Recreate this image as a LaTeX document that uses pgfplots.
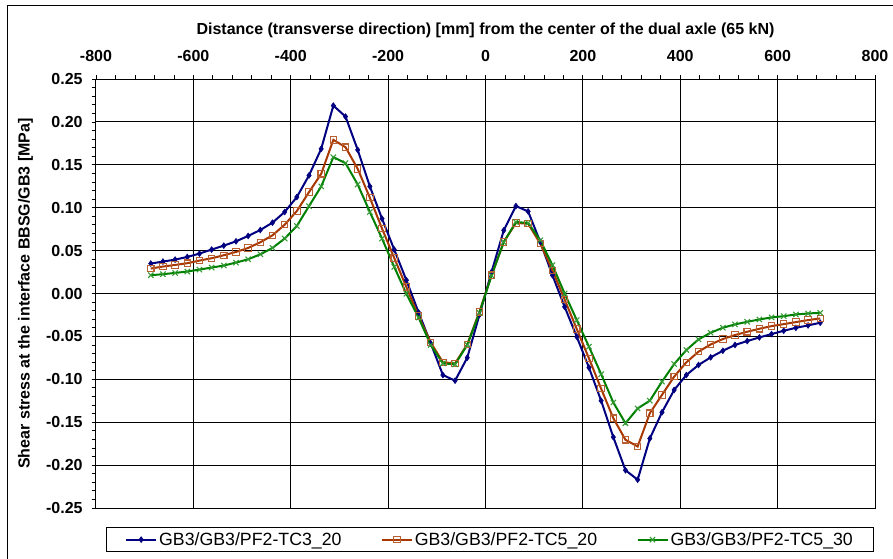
\documentclass[border=0pt]{standalone}
\usepackage{pgfplots}
\pgfplotsset{compat=1.18}
\usepackage{pgfplotstable}
\usepackage{fontspec}
\setmainfont{Liberation Sans}
\definecolor{cblue}{RGB}{0,0,128}
\definecolor{cred}{RGB}{168,56,0}
\definecolor{cgreen}{RGB}{0,128,0}
\pgfplotstableread{
x      a       b       c
-687.5 0.0349  0.0291  0.0213
-662.5 0.0372  0.0314  0.0225
-637.5 0.0395  0.0333  0.0240
-612.5 0.0426  0.0353  0.0256
-587.5 0.0465  0.0384  0.0279
-562.5 0.0512  0.0411  0.0302
-537.5 0.0558  0.0446  0.0326
-512.5 0.0608  0.0484  0.0360
-487.5 0.0671  0.0531  0.0399
-462.5 0.0740  0.0597  0.0457
-437.5 0.0826  0.0678  0.0531
-412.5 0.0950  0.0802  0.0640
-387.5 0.1124  0.0961  0.0787
-362.5 0.1376  0.1182  0.1019
-337.5 0.1686  0.1395  0.1248
-312.5 0.2190  0.1791  0.1589
-287.5 0.2062  0.1705  0.1519
-262.5 0.1674  0.1453  0.1271
-237.5 0.1248  0.1116  0.0950
-212.5 0.0872  0.0756  0.0640
-187.5 0.0512  0.0415  0.0310
-162.5 0.0155  0.0075  -0.0004
-137.5 -0.0220 -0.0264 -0.0280
-112.5 -0.0580 -0.0570 -0.0600
-87.5  -0.0950 -0.0802 -0.0814
-62.5  -0.1016 -0.0814 -0.0826
-37.5  -0.0748 -0.0593 -0.0600
-12.5  -0.0250 -0.0213 -0.0225
12.5   0.0252  0.0213  0.0210
37.5   0.0736  0.0600  0.0600
62.5   0.1019  0.0822  0.0833
87.5   0.0957  0.0814  0.0822
112.5  0.0601  0.0581  0.0620
137.5  0.0213  0.0271  0.0330
162.5  -0.0155 -0.0070 0.0000
187.5  -0.0504 -0.0415 -0.0310
212.5  -0.0864 -0.0756 -0.0620
237.5  -0.1250 -0.1110 -0.0940
262.5  -0.1674 -0.1453 -0.1270
287.5  -0.2060 -0.1705 -0.1512
312.5  -0.2170 -0.1783 -0.1340
337.5  -0.1690 -0.1395 -0.1249
362.5  -0.1384 -0.1182 -0.1027
387.5  -0.1124 -0.0969 -0.0822
412.5  -0.0950 -0.0802 -0.0659
437.5  -0.0833 -0.0678 -0.0535
462.5  -0.0744 -0.0593 -0.0457
487.5  -0.0667 -0.0531 -0.0399
512.5  -0.0600 -0.0484 -0.0360
537.5  -0.0554 -0.0446 -0.0330
562.5  -0.0512 -0.0411 -0.0302
587.5  -0.0473 -0.0380 -0.0279
612.5  -0.0434 -0.0357 -0.0264
637.5  -0.0400 -0.0333 -0.0244
662.5  -0.0372 -0.0310 -0.0233
687.5  -0.0341 -0.0291 -0.0225
}\datatable
\begin{document}
\begin{tikzpicture}
\useasboundingbox (-72pt,-37.5pt) rectangle (597.75pt,381pt);
\draw[line width=0.75pt] (-66pt,-80pt) -- (-66pt,376.5pt) -- (640pt,376.5pt);
\begin{axis}[
  at={(0pt,0pt)}, anchor=south west,
  scale only axis, width=584.25pt, height=321.75pt,
  xmin=-800, xmax=800, ymin=-0.25, ymax=0.25,
  xtick distance=200, ytick distance=0.05,
  minor x tick num=4, minor y tick num=4,
  xtick pos=right, xticklabel pos=right, ytick pos=left,
  tick align=outside,
  major tick length=3pt, minor tick length=3pt,
  every tick/.style={black, line width=0.6pt},
  grid=major,
  major grid style={black, line width=0.75pt},
  axis line style={black, line width=0.75pt},
  /pgf/number format/assume math mode=true,
  tick label style={font=\bfseries\fontsize{12}{14}\selectfont},
  yticklabel style={/pgf/number format/.cd, fixed, fixed zerofill, precision=2, /tikz/.cd, xshift=-3.5pt},
  xticklabel style={yshift=6.5pt},
  xlabel={Distance (transverse direction) [mm] from the center of the dual axle (65 kN)},
  ylabel={Shear stress at the interface BBSG/GB3 [MPa]},
  every axis x label/.style={at={(axis description cs:0.5,1)}, anchor=center, yshift=36.75pt, font=\bfseries\fontsize{12}{14}\selectfont},
  every axis y label/.style={at={(axis description cs:-0.0905,0.5)}, rotate=90, anchor=center, font=\bfseries\fontsize{12}{14}\selectfont},
  legend columns=3,
  legend cell align=left,
  legend image code/.code={\draw[mark repeat=2,mark phase=2] plot coordinates {(0pt,0pt) (11.25pt,0pt) (22.5pt,0pt)};},
  legend style={at={(axis description cs:0.01284,-0.04429)}, anchor=north west,
    draw=black, line width=0.75pt, font=\fontsize{13.3}{15}\selectfont,
    inner xsep=14pt, inner ysep=1.5pt,
    nodes={inner xsep=1.5pt},
    /tikz/every even column/.append style={column sep=28pt}},
]
\addplot[color=cblue, line width=1.5pt, mark=diamond*, mark size=2.2pt, mark options={solid, line width=0.4pt}] table[x=x, y=a] {\datatable};
\addlegendentry{GB3/GB3/PF2-TC3\_20}
\addplot[color=cred, line width=1.5pt, mark=square, mark size=2.4pt, mark options={solid, line width=0.8pt, draw=cred!80!white}] table[x=x, y=b] {\datatable};
\addlegendentry{GB3/GB3/PF2-TC5\_20}
\addplot[color=cgreen, line width=1.5pt, mark=x, mark size=2.8pt, mark options={solid, line width=0.8pt, draw=cgreen!80!white}] table[x=x, y=c] {\datatable};
\addlegendentry{GB3/GB3/PF2-TC5\_30}
\end{axis}
\end{tikzpicture}
\end{document}
